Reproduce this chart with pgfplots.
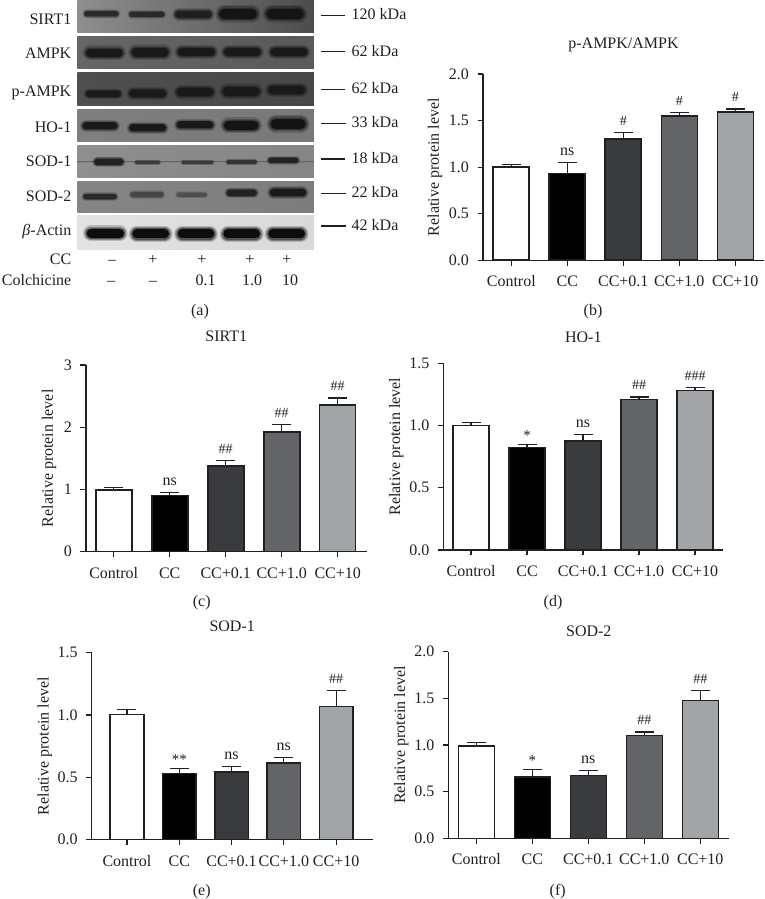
\documentclass[border=0pt]{standalone}
\usepackage{fontspec}
\setmainfont{Liberation Serif}
\usepackage{pgfplots}
\pgfplotsset{compat=1.18}

\definecolor{ink}{HTML}{231F20}
\definecolor{b0}{HTML}{FFFFFF}
\definecolor{b1}{HTML}{000000}
\definecolor{b2}{HTML}{3A3B3F}
\definecolor{b3}{HTML}{636468}
\definecolor{b4}{HTML}{A2A5A7}

\newcommand{\txt}{\fontsize{16}{18}\selectfont}

\pgfplotsset{
  panel/.style={
    anchor=south west, scale only axis, clip=false,
    axis x line*=bottom, axis y line*=left,
    axis line style={-, line width=1.1pt, ink},
    tick style={line width=1.1pt, ink},
    tick align=outside, major tick length=5.5pt,
    xtick={0,1,2,3,4},
    xticklabels={Control,CC,CC+0.1,CC+1.0,CC+10},
    x tick label style={anchor=base, yshift=-21pt},
    y tick label style={/pgf/number format/fixed, /pgf/number format/fixed zerofill,
      /pgf/number format/precision=1, /pgf/number format/assume math mode=true, xshift=-5pt},
    tick label style={font=\txt, text=ink},
    title style={font=\txt, text=ink, at={(0.5,1)}, anchor=base},
    every axis y label/.style={at={(axis description cs:0,0.5)}, rotate=90, anchor=center, font=\txt, text=ink},
    ymin=0,
  },
  onebar/.style={ybar, bar shift=0pt, draw=ink, line width=1.6pt,
    error bars/y dir=plus, error bars/y explicit,
    error bars/error bar style={line width=1.2pt, ink},
    error bars/error mark options={rotate=90, ink, mark size=9.5pt, line width=1.2pt}},
}
\newcommand{\barw}{36pt}
\newcommand{\onebar}[4]{\addplot[onebar, fill=#2, bar width=\barw] coordinates {(#1,#3) +- (0,#4)};}
\newcommand{\ann}[3]{\node[font=\fontsize{14}{14}\selectfont, text=ink, anchor=base, yshift=7pt] at (axis cs:#1,#2) {#3};}
\newcommand{\annstar}[3]{\node[font=\fontsize{15}{15}\selectfont, text=ink, anchor=base, yshift=4pt] at (axis cs:#1,#2) {#3};}
\newcommand{\annns}[3]{\node[font=\txt, text=ink, anchor=base, yshift=7pt] at (axis cs:#1,#2) {#3};}

% one blot band: x from, x to, y, height, percent black (zoomed image units, height in px)
\newcommand{\band}[5]{%
  \pgfmathsetmacro\xa{#1+1.5*#4}\pgfmathsetmacro\xb{#2-1.5*#4}%
  \addplot[color=black!#5, line width=#4*1.8pt, line cap=round, opacity=.2] coordinates {(\xa,#3)(\xb,#3)};
  \addplot[color=black!#5, line width=#4*1.5pt, line cap=round, opacity=.3] coordinates {(\xa,#3)(\xb,#3)};
  \addplot[color=black!#5, line width=#4*1.25pt, line cap=round, opacity=.4] coordinates {(\xa,#3)(\xb,#3)};
  \addplot[color=black!#5, line width=#4*1pt, line cap=round] coordinates {(\xa,#3)(\xb,#3)};
}
% one blot background: top, bottom, left and right percent black
\newcommand{\blot}[4]{%
  \addplot[draw=none, left color=black!#3, right color=black!#4] coordinates {(232,#1)(942,#1)(942,#2)(232,#2)(232,#1)};
}

\begin{document}
\begin{tikzpicture}[x=1pt,y=1pt,font=\txt,text=ink]
\path[use as bounding box] (0,0) rectangle (765,899);

% panel (a), blots
\begin{axis}[at={(77.33pt,649pt)}, anchor=south west, scale only axis, hide axis,
  width=236.67pt, height=250pt, xmin=232, xmax=942, ymin=0, ymax=750, y dir=reverse]
\blot{0}{98}{44}{70}
\blot{110}{207}{60}{65}
\blot{219}{316}{69}{72}
\blot{328}{425}{50}{53}
\blot{436}{533}{44}{48}
\blot{544}{639}{48}{51}
\blot{648}{749}{11}{15}
% SIRT1
\band{253}{355}{42}{5}{84}
\band{388}{493}{43}{5}{84}
\band{525}{635}{43}{7}{88}
\band{658}{770}{42}{10}{92}
\band{800}{910}{42}{10}{92}
% AMPK
\band{258}{368}{158}{8}{90}
\band{395}{505}{157}{9}{90}
\band{533}{645}{156}{8}{90}
\band{672}{782}{156}{8}{90}
\band{812}{922}{156}{8}{90}
% p-AMPK
\band{258}{362}{282}{6}{90}
\band{388}{498}{280}{7}{90}
\band{530}{640}{277}{8}{90}
\band{668}{778}{274}{9}{90}
\band{805}{915}{270}{8}{90}
% HO-1
\band{248}{352}{378}{7}{90}
\band{388}{498}{384}{7}{90}
\band{530}{640}{375}{7}{90}
\band{672}{775}{376}{9}{92}
\band{812}{917}{372}{10}{92}
% SOD-1
\band{232}{942}{485}{1}{60}
\band{283}{370}{486}{6}{87}
\band{405}{480}{487}{3}{77}
\band{545}{640}{487}{3}{77}
\band{680}{770}{486}{3.5}{80}
\band{805}{895}{481}{5}{87}
% SOD-2
\band{250}{350}{590}{5}{84}
\band{392}{490}{584}{5}{73}
\band{530}{620}{584}{4}{69}
\band{680}{770}{579}{6}{87}
\band{810}{918}{578}{7}{90}
% beta-actin
\band{260}{372}{700}{9}{95}
\band{397}{507}{702}{9}{95}
\band{533}{643}{702}{9}{95}
\band{670}{780}{702}{9}{95}
\band{805}{915}{702}{9}{95}
\end{axis}

% protein names
\foreach \y/\t in {25/SIRT1,59/AMPK,97/p-AMPK,132.7/HO-1,166.7/SOD-1,202/SOD-2,236/\textit{β}-Actin,265/CC,286/Colchicine}
  \node[anchor=base east, inner sep=0pt] at (71.5,899-\y) {\t};
% size markers
\foreach \a/\y/\t in {320.7/15.3/120 kDa,320.7/51.7/62 kDa,320.7/89.3/62 kDa,321.3/123.3/33 kDa,320.7/159/18 kDa,321.3/193.3/22 kDa,321.3/226/42 kDa}{
  \draw[ink, line width=1.1pt] (\a,899-\y) -- ++(24.3,0);
  \node[anchor=base west, inner sep=0pt] at (351.5,899-\y-4.5) {\t};
}
% treatment rows
\foreach \x/\t in {112/–,153/+,202/+,250/+,287/+}
  \node[anchor=base, inner sep=0pt] at (\x,899-265) {\t};
\foreach \x/\t in {111/–,153/–,205.7/0.1,252/1.0,290/10}
  \node[anchor=base, inner sep=0pt] at (\x,899-286) {\t};

% panel (b)
\begin{axis}[panel, at={(483pt,638.7pt)}, width=281pt, height=186.3pt,
  xmin=-0.505, xmax=4.5125, ymax=2, ytick={0,0.5,1,1.5,2},
  title={p-AMPK/AMPK}, title style={yshift=19pt}, ylabel={Relative protein level}, ylabel style={yshift=48pt}]
\onebar{0}{b0}{1.0}{0.025}
\onebar{1}{b1}{0.93}{0.12}
\onebar{2}{b2}{1.30}{0.07}
\onebar{3}{b3}{1.55}{0.035}
\onebar{4}{b4}{1.59}{0.035}
\annns{1}{1.05}{ns}
\ann{2}{1.37}{\#}
\ann{3}{1.585}{\#}
\ann{4}{1.625}{\#}
\end{axis}

% panel (c)
\begin{axis}[panel, at={(86pt,347.3pt)}, width=280.7pt, height=186.7pt,
  xmin=-0.495, xmax=4.518, ymax=3, ytick={0,1,2,3},
  y tick label style={/pgf/number format/precision=0, /pgf/number format/fixed zerofill=false},
  title={SIRT1}, title style={yshift=17pt}, ylabel={Relative protein level}, ylabel style={yshift=37pt}]
\onebar{0}{b0}{0.99}{0.04}
\onebar{1}{b1}{0.90}{0.05}
\onebar{2}{b2}{1.38}{0.08}
\onebar{3}{b3}{1.92}{0.13}
\onebar{4}{b4}{2.36}{0.11}
\annns{1}{0.95}{ns}
\ann{2}{1.46}{\#\#}
\ann{3}{2.05}{\#\#}
\ann{4}{2.47}{\#\#}
\end{axis}

% panel (d)
\begin{axis}[panel, at={(443.3pt,349pt)}, width=280pt, height=186.7pt,
  xmin=-0.495, xmax=4.505, ymax=1.5, ytick={0,0.5,1,1.5},
  title={HO-1}, title style={yshift=15pt}, ylabel={Relative protein level}, ylabel style={yshift=47pt, xshift=10pt}]
\onebar{0}{b0}{1.0}{0.025}
\onebar{1}{b1}{0.825}{0.025}
\onebar{2}{b2}{0.875}{0.055}
\onebar{3}{b3}{1.21}{0.02}
\onebar{4}{b4}{1.28}{0.025}
\annstar{1}{0.85}{*}
\annns{2}{0.93}{ns}
\ann{3}{1.23}{\#\#}
\ann{4}{1.305}{\#\#\#}
\end{axis}

% panel (e)
\renewcommand{\barw}{33.5pt}
\begin{axis}[panel, at={(91.7pt,59.3pt)}, width=281pt, height=187pt,
  xmin=-0.675, xmax=4.70, ymax=1.5, ytick={0,0.5,1,1.5},
  title={SOD-1}, title style={yshift=15pt}, ylabel={Relative protein level}, ylabel style={yshift=47pt}]
\onebar{0}{b0}{1.005}{0.04}
\onebar{1}{b1}{0.53}{0.04}
\onebar{2}{b2}{0.545}{0.04}
\onebar{3}{b3}{0.615}{0.045}
\onebar{4}{b4}{1.07}{0.125}
\annstar{1}{0.57}{**}
\annns{2}{0.585}{ns}
\annns{3}{0.66}{ns}
\ann{4}{1.195}{\#\#}
\end{axis}
\renewcommand{\barw}{36pt}

% panel (f)
\begin{axis}[panel, at={(448.3pt,60.7pt)}, width=281pt, height=186.6pt,
  xmin=-0.5, xmax=4.518, ymax=2, ytick={0,0.5,1,1.5,2},
  title={SOD-2}, title style={yshift=9pt}, ylabel={Relative protein level}, ylabel style={yshift=47pt, xshift=10pt}]
\onebar{0}{b0}{0.99}{0.04}
\onebar{1}{b1}{0.655}{0.085}
\onebar{2}{b2}{0.675}{0.055}
\onebar{3}{b3}{1.10}{0.04}
\onebar{4}{b4}{1.475}{0.11}
\annstar{1}{0.74}{*}
\annns{2}{0.73}{ns}
\ann{3}{1.14}{\#\#}
\ann{4}{1.585}{\#\#}
\end{axis}

% sub-figure letters
\foreach \x/\y/\t in {200/316/(a),593/316/(b),201.7/607/(c),553/607/(d),201.7/896/(e),557.7/896/(f)}
  \node[anchor=base, inner sep=0pt] at (\x,899-\y) {\t};
\end{tikzpicture}
\end{document}
